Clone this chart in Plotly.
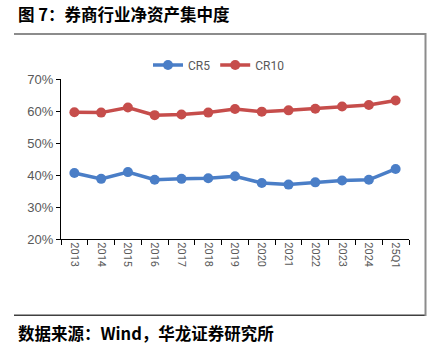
import plotly.graph_objects as go

categories = ["2013", "2014", "2015", "2016", "2017", "2018", "2019",
              "2020", "2021", "2022", "2023", "2024", "25Q1"]
cr5 = [40.6, 38.8, 40.9, 38.5, 38.8, 39.0, 39.6, 37.5, 37.0, 37.7, 38.3, 38.5, 41.9]
cr10 = [59.6, 59.5, 61.1, 58.7, 58.9, 59.5, 60.6, 59.8, 60.2, 60.7, 61.4, 61.9, 63.3]
yticks = [20, 30, 40, 50, 60, 70]
ytext = ["20%", "30%", "40%", "50%", "60%", "70%"]

title = "图 7：券商行业净资产集中度"
source = "数据来源：Wind，华龙证券研究所"

W, H = 430, 344
PL, PR, PT, PB = 61, 409, 79, 239  # plot area in pixels


def fx(x):
    return x / W


def fy(y):
    return 1 - y / H


fig = go.Figure()

fig.add_trace(go.Scatter(x=categories, y=cr5, name="CR5", mode="lines+markers",
                         line=dict(color="#4A7EC7", width=3.5),
                         marker=dict(size=10, color="#4A7EC7")))
fig.add_trace(go.Scatter(x=categories, y=cr10, name="CR10", mode="lines+markers",
                         line=dict(color="#C64D4B", width=3.5),
                         marker=dict(size=10, color="#C64D4B")))

fig.update_layout(
    width=W, height=H,
    margin=dict(l=0, r=0, t=0, b=0, autoexpand=False),
    paper_bgcolor="white", plot_bgcolor="white",
    font=dict(family="Liberation Sans, Arial", color="#595959"),
    showlegend=True,
    legend=dict(orientation="h", x=fx(219), xanchor="center", y=fy(65), yanchor="middle",
                font=dict(size=12, color="#595959", family="Roboto, Liberation Sans"),
                itemwidth=30, tracegroupgap=0, bgcolor="rgba(0,0,0,0)"),
    xaxis=dict(type="category", domain=[fx(PL), fx(PR)], automargin=False,
               showline=True, linecolor="#000000", linewidth=1.2,
               ticks="outside", tickson="boundaries", ticklen=5, tickcolor="#000000",
               tickangle=90, tickfont=dict(size=11, color="#595959", family="Roboto, Liberation Sans"),
               showgrid=False, zeroline=False, range=[-0.5, 12.5]),
    yaxis=dict(range=[20, 70], domain=[fy(PB), fy(PT)], automargin=False,
               tickvals=yticks, ticktext=ytext, showline=True,
               linecolor="#000000", linewidth=1.2, ticks="outside", ticklen=4,
               tickcolor="#000000", tickfont=dict(size=13, color="#595959"),
               showgrid=False, zeroline=False),
    shapes=[
        dict(type="rect", xref="paper", yref="paper", x0=fx(14), x1=fx(426),
             y0=fy(35), y1=fy(33), fillcolor="#8C8C8C", line=dict(width=0)),
        dict(type="rect", xref="paper", yref="paper", x0=fx(14), x1=fx(426),
             y0=fy(316), y1=fy(314.5), fillcolor="#404040", line=dict(width=0)),
        dict(type="rect", xref="paper", yref="paper", x0=fx(424.5), x1=fx(426.5),
             y0=fy(316), y1=fy(33), fillcolor="#8C8C8C", line=dict(width=0)),
    ],
)

fig.add_annotation(text="<b>" + title + "</b>", xref="paper", yref="paper",
                   x=fx(16), y=fy(14), xanchor="left", yanchor="middle",
                   showarrow=False,
                   font=dict(size=16.5, color="#000000", family="Noto Sans CJK SC"))
fig.add_annotation(text="<b>" + source + "</b>", xref="paper", yref="paper",
                   x=fx(16), y=fy(333), xanchor="left", yanchor="middle",
                   showarrow=False,
                   font=dict(size=16.5, color="#000000", family="Noto Sans CJK SC"))

fig.write_html("out.html")
